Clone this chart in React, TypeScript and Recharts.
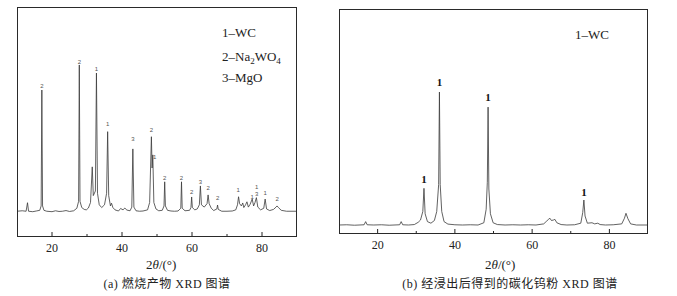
import React from 'react';
import { ComposedChart, Line, Scatter, XAxis, YAxis } from 'recharts';

// 2θ (deg), intensity (a.u.) — (a) combustion product
const patternA: [number, number][] = [
  [10, 112], [11.5, 114], [12.6, 112], [13.0, 149], [13.3, 112], [14.5, 110], [15.5, 113],
  [16.5, 116], [16.9, 135], [17.1, 639], [17.3, 135], [17.7, 116], [18.5, 112], [20, 110],
  [21, 114], [22, 111], [23, 112], [24, 115], [25, 111], [26.2, 114], [27.1, 125], [27.6, 155],
  [27.8, 748], [28.0, 155], [28.5, 128], [29.2, 120], [29.8, 118], [30.4, 126], [31.0, 150],
  [31.5, 305], [31.8, 180], [32.4, 200], [32.7, 713], [33.0, 190], [33.5, 140], [34.2, 128],
  [35.0, 140], [35.6, 190], [35.9, 458], [36.2, 180], [36.7, 135], [37.0, 147], [37.4, 128],
  [38, 118], [39, 113], [39.6, 124], [40.3, 118], [40.8, 126], [41.4, 117], [42.3, 114],
  [42.8, 130], [43.1, 383], [43.4, 130], [44.0, 114], [45, 112], [46, 113], [47.3, 118],
  [47.9, 150], [48.4, 436], [48.6, 300], [48.8, 357], [49.1, 150], [49.7, 122], [50.5, 114],
  [51.5, 116], [52.0, 135], [52.2, 240], [52.4, 135], [53, 116], [54, 113], [55, 112],
  [56, 113], [56.8, 125], [57.0, 240], [57.2, 125], [58, 114], [59.3, 116], [59.7, 128],
  [59.9, 174], [60.1, 128], [60.8, 118], [61.5, 122], [62.1, 140], [62.4, 222], [62.7, 140],
  [63.5, 130], [64.3, 145], [64.6, 183], [64.9, 145], [65.5, 125], [66.2, 115], [67.1, 122],
  [67.3, 139], [67.5, 120], [68.5, 112], [70, 112], [71.5, 113], [72.5, 118], [73.0, 140],
  [73.3, 175], [73.6, 145], [74.1, 135], [74.5, 148], [74.8, 128], [75.3, 140], [75.7, 153],
  [76.1, 130], [76.6, 142], [77.2, 165], [77.6, 135], [78.0, 150], [78.4, 171], [78.8, 130],
  [79.6, 118], [80.5, 125], [80.9, 165], [81.3, 122], [82.2, 115], [83.3, 120], [84.0, 130],
  [84.3, 135], [84.7, 128], [85.5, 116], [87, 112], [90, 112],
];

// peak markers for (a): 2θ, height, phase number
const peaksA: [number, number, string][] = [
  [17.1, 658, '2'], [27.8, 761, '2'], [32.7, 730, '1'], [35.9, 491, '1'], [43.1, 426, '3'],
  [48.4, 465, '2'], [49.3, 349, '1'], [52.2, 257, '2'], [57.0, 257, '2'], [59.9, 196, '2'],
  [62.4, 240, '3'], [64.6, 213, '2'], [67.3, 171, '2'], [73.2, 204, '1'], [77.2, 174, '1'],
  [78.5, 217, '1'], [78.5, 187, '3'], [80.9, 193, '1'], [84.3, 165, '2'],
];

// (b) tungsten carbide powder after leaching
const patternB: [number, number][] = [
  [10, 40], [12, 41], [14, 39], [16.5, 41], [16.9, 55], [17.3, 41], [19, 40], [21, 41],
  [23, 39], [25.7, 41], [26.1, 55], [26.5, 41], [28, 40], [29.5, 42], [30.5, 52], [31.1, 62],
  [31.7, 100], [32.0, 203], [32.3, 90], [32.9, 55], [33.8, 48], [34.7, 60], [35.3, 100],
  [35.8, 220], [36.0, 631], [36.2, 220], [36.6, 100], [37.2, 55], [38.2, 44], [40, 41],
  [42, 40], [44, 41], [46, 40], [47.5, 50], [48.1, 110], [48.4, 230], [48.6, 564], [48.8, 200],
  [49.2, 90], [49.9, 50], [51, 42], [53, 40], [55, 41], [57, 40], [59, 41], [61, 40],
  [63.0, 45], [63.8, 58], [64.3, 66], [64.6, 70], [65.0, 60], [65.5, 62], [65.9, 65],
  [66.4, 50], [67.5, 42], [69, 40], [71, 41], [72.6, 48], [73.1, 95], [73.4, 151], [73.7, 80],
  [74.3, 48], [75.5, 50], [76.2, 45], [77.0, 48], [77.6, 42], [79, 40], [81, 41], [83.2, 45],
  [83.9, 70], [84.3, 92], [84.8, 68], [85.5, 45], [87, 40], [90, 40],
];

const peaksB: [number, number, string][] = [
  [32.0, 244, '1'], [36.0, 676, '1'], [48.6, 609, '1'], [73.4, 187, '1'],
];

const xTicks = [20, 30, 40, 50, 60, 70, 80];
const SERIF = '"Liberation Serif", "Times New Roman", "Noto Sans CJK SC", serif';

const toRows = (p: [number, number][]) => p.map(([t, i]) => ({ t, i }));
const toMarks = (p: [number, number, string][]) => p.map(([t, i, s]) => ({ t, i, s }));

function Tick(props: any) {
  const { x, y, payload } = props;
  const major = payload.value % 20 === 0;
  return (
    <g>
      <line x1={x} x2={x} y1={y} y2={y - (major ? 5 : 3)} stroke="#222" />
      {major && (
        <text x={x} y={y + 11} textAnchor="middle" dominantBaseline="central"
          fontSize={12} fontFamily={SERIF} fill="#222">
          {payload.value}
        </text>
      )}
    </g>
  );
}

interface PanelProps {
  left: number;
  width: number;
  margin: { top: number; left: number; right: number; bottom: number };
  pattern: [number, number][];
  peaks: [number, number, string][];
  bold: boolean;
}

function Panel({ left, width, margin, pattern, peaks, bold }: PanelProps) {
  const plotW = width - margin.left - margin.right;
  const plotH = 296 - margin.top - margin.bottom - 30;
  const markColor = bold ? '#111' : '#555';
  return (
    <div style={{ position: 'absolute', left, top: 0, width, height: 296 }}>
      <ComposedChart width={width} height={296} margin={margin}>
        <XAxis type="number" dataKey="t" domain={[10, 90]} ticks={xTicks}
          axisLine={false} tickLine={false} tickSize={0} tickMargin={0}
          height={30} tick={<Tick />} allowDataOverflow />
        <YAxis type="number" dataKey="i" domain={[0, 1000]} hide allowDataOverflow />
        <Line data={toRows(pattern)} dataKey="i" type="linear" stroke="#3a3a3a"
          strokeWidth={0.8} dot={false} isAnimationActive={false} />
        <Scatter data={toMarks(peaks)} dataKey="i" fill={markColor} isAnimationActive={false}
          shape={(p: any) => (
            <text x={p.cx} y={p.cy} textAnchor="middle" dominantBaseline="central"
              fontSize={bold ? 11 : 6} fontWeight={bold ? 'bold' : 'normal'}
              fontFamily={bold ? SERIF : 'Arial, "Liberation Sans", sans-serif'}
              fill={markColor} stroke="none">
              {p.payload.s}
            </text>
          )} />
      </ComposedChart>
      <div style={{
        position: 'absolute', left: margin.left, top: margin.top,
        width: plotW, height: plotH, boxSizing: 'border-box',
        border: '1px solid #2a2a2a', pointerEvents: 'none',
      }} />
    </div>
  );
}

const abs = (l: number, t: number, extra: React.CSSProperties = {}): React.CSSProperties => ({
  position: 'absolute', left: l, top: t, whiteSpace: 'nowrap', lineHeight: 1, ...extra,
});
const sub: React.CSSProperties = { fontSize: 9, verticalAlign: 'baseline', position: 'relative', top: 3 };

export default function App() {
  return (
    <div style={{ position: 'absolute', left: 0, top: 0, width: 677, height: 296,
      background: '#fff', fontFamily: SERIF, color: '#222', overflow: 'hidden' }}>
      <Panel left={0} width={310} margin={{ top: 7, left: 17, right: 13, bottom: 29 }}
        pattern={patternA} peaks={peaksA} bold={false} />
      <Panel left={330} width={347} margin={{ top: 9, left: 9, right: 29, bottom: 32 }}
        pattern={patternB} peaks={peaksB} bold />

      <div style={abs(222, 26, { fontSize: 13 })}>1–WC</div>
      <div style={abs(222, 50, { fontSize: 13 })}>2–Na<span style={sub}>2</span>WO<span style={sub}>4</span></div>
      <div style={abs(222, 71, { fontSize: 13 })}>3–MgO</div>
      <div style={abs(575, 28, { fontSize: 13 })}>1–WC</div>

      <div style={abs(146, 258, { fontSize: 13 })}>2<i>θ</i>/(°)</div>
      <div style={abs(485, 258, { fontSize: 13 })}>2<i>θ</i>/(°)</div>

      <div style={abs(167, 278, { fontSize: 12, transform: 'translateX(-50%)', letterSpacing: 0.5 })}>
        (a) 燃烧产物 XRD 图谱
      </div>
      <div style={abs(510, 278, { fontSize: 12, transform: 'translateX(-50%)', letterSpacing: 0.5 })}>
        (b) 经浸出后得到的碳化钨粉 XRD 图谱
      </div>
    </div>
  );
}
